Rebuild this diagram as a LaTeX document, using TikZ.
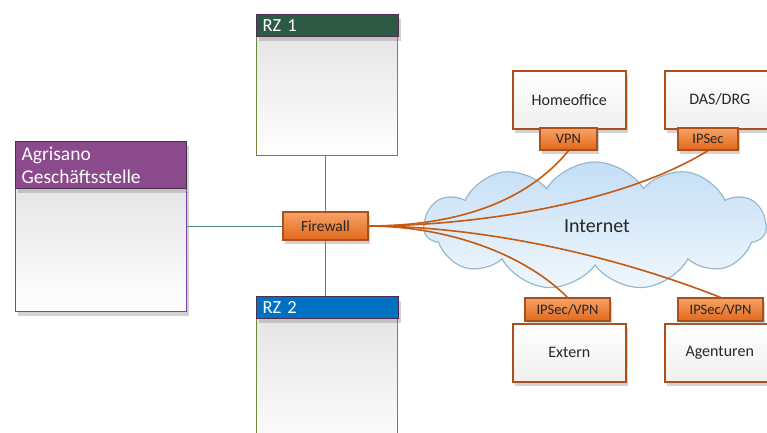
\documentclass[tikz,border=0pt]{standalone}
\usepackage{fontspec}
\setmainfont{Carlito}
\usetikzlibrary{shapes.symbols,shadows}
\definecolor{rzgreen}{HTML}{2E5A45}
\definecolor{rzblue}{HTML}{0070C0}
\definecolor{agpurple}{HTML}{8A4A8C}
\definecolor{agborder}{HTML}{7A3FB0}
\definecolor{hdrborder}{HTML}{4A2F4E}
\definecolor{olive}{HTML}{6F8A3C}
\definecolor{teal}{HTML}{4E8A84}
\definecolor{orlight}{HTML}{F6A366}
\definecolor{ordark}{HTML}{E2681C}
\definecolor{orborder}{HTML}{A9501C}
\definecolor{orline}{HTML}{C55A11}
\definecolor{cloudtop}{HTML}{C4DEF6}
\definecolor{cloudbot}{HTML}{F0F7FD}
\definecolor{cloudline}{HTML}{96BACB}
\tikzset{
  shad/.style={drop shadow={opacity=0.35,shadow xshift=2pt,shadow yshift=-4pt}},
  bodybox/.style={draw, line width=1.2pt, top color=gray!20, bottom color=white, anchor=north west, inner sep=0pt},
  hdr/.style={draw=hdrborder, line width=1.2pt, anchor=north west, text=white, font=\fontsize{18.5}{20}\selectfont, align=left, inner xsep=6pt, inner ysep=0pt, shad},
  orbox/.style={draw=orborder, line width=1.2pt, top color=orlight, bottom color=ordark, text=black!85, font=\fontsize{14.5}{16}\selectfont, inner sep=0pt, shad},
  sitebox/.style={draw=orborder, line width=1.5pt, top color=white, bottom color=gray!12, text=black!85, font=\fontsize{16}{18}\selectfont, anchor=north west, inner sep=0pt, shad},
  grayline/.style={draw=teal, line width=1pt},
  orangeline/.style={draw=orline, line width=1.6pt},
}
\begin{document}
\begin{tikzpicture}[x=1pt,y=-1pt]
\useasboundingbox (0,0) rectangle (767,432);
\fill[white] (0,0) rectangle (767,432);

% cloud
\node[cloud, cloud puffs=11, cloud puff arc=115, cloud ignores aspect, minimum width=342pt, minimum height=128pt, draw=cloudline, line width=1.2pt, top color=cloudtop, bottom color=cloudbot] (cloud) at (595,226) {};
\node[font=\fontsize{20}{22}\selectfont, text=black!85] (inet) at (597,226) {Internet};

% RZ 1
\node[bodybox, draw=olive, minimum width=141pt, minimum height=120pt] (rz1body) at (256,35) {};
\node[hdr, fill=rzgreen, minimum width=142pt, minimum height=22pt, text width=130pt] (rz1) at (256,14) {RZ 1};

% RZ 2
\node[bodybox, draw=olive, minimum width=141pt, minimum height=140pt] (rz2body) at (256,317) {};
\node[hdr, fill=rzblue, minimum width=142pt, minimum height=22pt, text width=130pt] (rz2) at (256,296) {RZ 2};

% Agrisano
\node[bodybox, draw=agborder, minimum width=171pt, minimum height=124pt, shad] (agbody) at (15,187) {};
\node[hdr, fill=agpurple, minimum width=171pt, minimum height=47pt, text width=159pt, font=\fontsize{19.5}{23}\selectfont] (ag) at (15,141) {Agrisano\\Geschäftsstelle};

% firewall
\node[orbox, minimum width=85pt, minimum height=28pt, font=\fontsize{15.5}{17}\selectfont] (fw) at (325.5,226) {Firewall};

% gray connectors
\draw[grayline] (agbody.east |- fw.west) -- (fw.west);
\draw[grayline] (rz1body.south -| fw.north) -- (fw.north);
\draw[grayline] (fw.south) -- (rz2.north -| fw.south);

% sites
\node[sitebox, minimum width=113pt, minimum height=58pt] (home) at (512,70) {Homeoffice};
\node[sitebox, minimum width=110pt, minimum height=58pt] (das) at (664,70) {DAS/DRG};
\node[sitebox, minimum width=113pt, minimum height=58pt] (ext) at (512,323) {Extern};
\node[sitebox, minimum width=110pt, minimum height=58pt] (agt) at (664,323) {Agenturen};

% labels
\node[orbox, minimum width=57pt, minimum height=22pt] (vpn) at (568.5,139) {VPN};
\node[orbox, minimum width=60pt, minimum height=22pt] (ipsec) at (708,139) {IPSec};
\node[orbox, minimum width=85pt, minimum height=23pt] (ev) at (567.5,309.5) {IPSec/VPN};
\node[orbox, minimum width=85pt, minimum height=23pt] (av) at (720.5,309.5) {IPSec/VPN};

% orange connectors
\draw[orangeline] (fw.east) .. controls (440,226) and (520,210) .. (vpn.south);
\draw[orangeline] (fw.east) .. controls (470,226) and (620,205) .. (ipsec.south);
\draw[orangeline] (fw.east) .. controls (440,226) and (520,250) .. (ev.north);
\draw[orangeline] (fw.east) .. controls (470,226) and (600,250) .. (av.north);
\end{tikzpicture}
\end{document}
